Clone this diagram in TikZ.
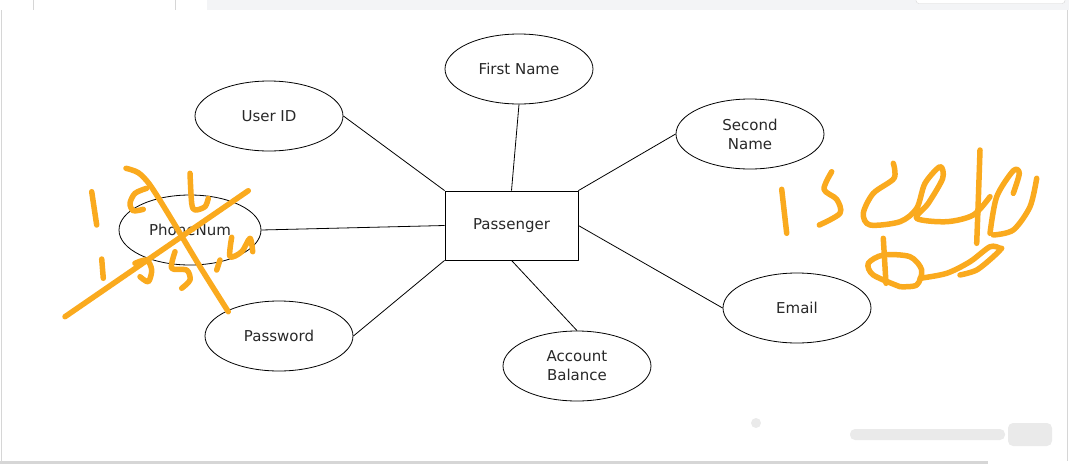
\documentclass[tikz,border=0pt]{standalone}
\usepackage{fontspec}
\setmainfont{DejaVu Sans}
\usetikzlibrary{shapes,positioning,calc}
\definecolor{uibar}{RGB}{243,244,246}
\definecolor{uiline}{RGB}{214,214,214}
\definecolor{txt}{RGB}{40,40,40}
\definecolor{pen}{RGB}{250,170,30}
\definecolor{smudge}{RGB}{234,234,234}

\begin{document}
\begin{tikzpicture}[x=1pt,y=-1pt, line join=round,
  attr/.style={ellipse,draw,line width=0.8pt,minimum width=148pt,minimum height=70pt,inner sep=0pt,align=center,text=txt,font=\fontsize{15}{19}\selectfont},
  entity/.style={rectangle,draw,line width=0.8pt,minimum width=133pt,minimum height=69pt,inner sep=0pt,text=txt,font=\fontsize{15}{19}\selectfont},
  link/.style={line width=0.8pt},
  scribble/.style={pen,line width=5.5pt,line cap=round,line join=round}]
\useasboundingbox (0,0) rectangle (1069,464);
% page chrome
\fill[uibar] (207,0) rectangle (1069,10);
\draw[uiline] (33,0)--(33,10) (175,0)--(175,10);
\draw[uiline] (1.5,10)--(1.5,461) (1067.5,10)--(1067.5,461);
\draw[uiline,fill=white,rounded corners=3pt] (916,-6) rectangle (1065,3.5);
\fill[uiline] (0,461) rectangle (988,464);
\fill[smudge] (756,423) circle (5);
\fill[smudge,rounded corners=5pt] (850,429) rectangle (1005,440);
\fill[smudge,rounded corners=5pt] (1008,423) rectangle (1052,446);
% entity and attributes
\node[entity] (pass) at (511.5,225.5) {Passenger};
\node[attr] (first)  at (519,69)  {First Name};
\node[attr] (user)   at (269,116) {User ID};
\node[attr] (second) at (750,134) {Second\\Name};
\node[attr,minimum width=142pt] (phone) at (190,230) {PhoneNum};
\node[attr] (email)  at (797,308) {Email};
\node[attr] (pwd)    at (279,336) {Password};
\node[attr] (acct)   at (577,366) {Account\\Balance};
\draw[link] (user.east)--(pass.north west);
\draw[link] (first.south)--(pass.north);
\draw[link] (second.west)--(pass.north east);
\draw[link] (phone.east)--(pass.west);
\draw[link] (pwd.east)--(pass.south west);
\draw[link] (acct.north)--(pass.south);
\draw[link] (email.west)--(pass.east);
% handwriting, left
\draw[scribble] (65,316.7)--(248.3,190.7);
\draw[scribble] plot[smooth] coordinates {(126,168.3) (138.3,172.7) (150,185) (170,216.7) (200,266.7) (228.3,311.7)};
\draw[scribble] (91.7,191.7)--(96.7,225);
\draw[scribble] plot[smooth] coordinates {(146.7,188.3) (135,193.3) (130,203.3) (133.3,210.7) (143.3,209.3)};
\draw[scribble] plot[smooth] coordinates {(190,173.3) (191.7,203.3) (195,210) (205,206.7) (208.3,198.3)};
\draw[scribble] (101.7,259)--(103.3,278.3);
\draw[scribble] plot[smooth] coordinates {(135,263.3) (146.7,260) (151.7,270) (148.3,281.7) (140,276.7)};
\draw[scribble] plot[smooth] coordinates {(175,251.7) (171.7,268.3) (186.7,270) (190,280) (181.7,288.3)};
\draw[scribble] (220,260)--(216.7,270);
\draw[scribble] plot[smooth] coordinates {(231.7,237.3) (230,256.7) (241.7,251.7) (250,238.3) (252.7,251.7)};
% handwriting, right
\draw[scribble] (781.7,189.3)--(786.7,233.3);
\draw[scribble] plot[smooth] coordinates {(831.7,171.7) (824,189.3) (836.7,199.3) (840,213.3) (819.3,225)};
\draw[scribble] plot[smooth] coordinates {(893.3,163.3) (894,178.3) (873.3,193.3) (863.3,213.3) (870,225) (900,221.7) (916.7,208.3) (925,183.3) (940,166.7) (942.7,178.3) (928.3,203.3) (916.7,218.3) (946.7,221.7) (973.3,215) (990,196.7)};
\draw[scribble] plot[smooth] coordinates {(980,150) (978.3,200) (976.7,243.3)};
\draw[scribble] plot[smooth] coordinates {(990,233.3) (996.7,196.7) (1013.3,170.7) (1019.3,173.3) (1013.3,193.3)};
\draw[scribble] plot[smooth] coordinates {(993.3,235) (1013.3,230) (1030,206.7) (1036.7,178.3)};
\draw[scribble] (883.3,238.3)--(886,283.3);
\draw[scribble] plot[smooth] coordinates {(900,286.7) (873.3,275) (868.3,263.3) (883.3,255) (910,256.7) (921.7,270) (916.7,285) (900,286.7)};
\draw[scribble] plot[smooth] coordinates {(920,278.3) (946.7,273.3) (970,261.7) (990,246.7) (1000,248.3)};
\draw[scribble] plot[smooth] coordinates {(960,275) (976.7,270) (993.3,256.7) (1001.7,248.3)};
\end{tikzpicture}
\end{document}
